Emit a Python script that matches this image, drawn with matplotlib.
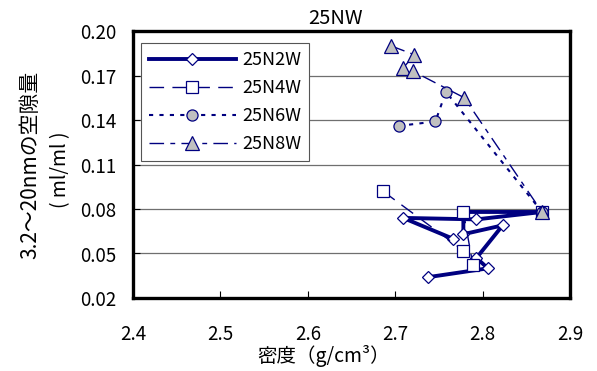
import matplotlib
matplotlib.use("Agg")
import matplotlib.pyplot as plt

plt.rcParams["font.family"] = ["Noto Sans CJK JP", "DejaVu Sans"]

# ── data ──────────────────────────────────────────────────────────────────────
n2w_x = [2.737, 2.806, 2.793, 2.823, 2.778, 2.778, 2.868, 2.793, 2.709, 2.766]
n2w_y = [0.034, 0.040, 0.047, 0.069, 0.063, 0.078, 0.078, 0.073, 0.074, 0.060]

n4w_x = [2.686, 2.778, 2.789, 2.778, 2.868]
n4w_y = [0.092, 0.052, 0.042, 0.078, 0.078]

n6w_x = [2.704, 2.746, 2.758, 2.868]
n6w_y = [0.136, 0.139, 0.159, 0.078]

n8w_x = [2.695, 2.722, 2.709, 2.720, 2.779, 2.868]
n8w_y = [0.190, 0.184, 0.175, 0.173, 0.155, 0.078]

x_ticks = [2.4, 2.5, 2.6, 2.7, 2.8, 2.9]
y_ticks = [0.02, 0.05, 0.08, 0.11, 0.14, 0.17, 0.20]

navy = "#000080"
grey = "#C0C0C0"

# ── plot ──────────────────────────────────────────────────────────────────────
fig = plt.figure(figsize=(5.97, 3.71), dpi=100)
ax = fig.add_axes([133 / 597, 1 - 298 / 371, 437 / 597, 267 / 371])

ax.plot(n2w_x, n2w_y, color=navy, lw=2.8, marker="D", ms=6.2,
        mfc="white", mec=navy, mew=0.9, label="25N2W", zorder=3)
ax.plot(n4w_x, n4w_y, color=navy, lw=1.0, dashes=(10.5, 6), marker="s", ms=8,
        mfc="white", mec=navy, mew=0.9, label="25N4W", zorder=4)
ax.plot(n6w_x, n6w_y, color=navy, lw=1.5, dashes=(2.0, 3.0), marker="o", ms=8,
        mfc=grey, mec=navy, mew=0.9, label="25N6W", zorder=5)
ax.plot(n8w_x, n8w_y, color=navy, lw=1.0, dashes=(10.5, 4.5, 3.5, 4.5),
        marker="^", ms=10, mfc=grey, mec=navy, mew=0.9, label="25N8W", zorder=6)

ax.set_xlim(2.4, 2.9)
ax.set_ylim(0.02, 0.20)
ax.set_xticks(x_ticks)
ax.set_yticks(y_ticks)
ax.set_xticklabels([f"{v:.1f}" for v in x_ticks])
ax.set_yticklabels([f"{v:.2f}" for v in y_ticks])
ax.tick_params(axis="x", direction="in", length=5, width=0.8, pad=19, labelsize=13.5)
ax.tick_params(axis="y", direction="in", length=5, width=0.8, pad=12, labelsize=13.5)

ax.yaxis.grid(True, color="#6f6f6f", lw=0.9)
ax.set_axisbelow(True)
for s in ax.spines.values():
    s.set_linewidth(2.4)
    s.set_color("black")

fig.text(335 / 597, 1 - 18 / 371, "25NW", fontsize=14.5, ha="center", va="center")
fig.text(324 / 597, 1 - 356 / 371, "密度（g/cm³）", fontsize=14,
         ha="center", va="center")
fig.text(30 / 597, 1 - 165 / 371, "3.2～20nmの空隙量", fontsize=15,
         rotation=90, ha="center", va="center")
fig.text(61 / 597, 1 - 170 / 371, "( ml/ml )", fontsize=14,
         rotation=90, ha="center", va="center")

leg = ax.legend(loc="upper left", bbox_to_anchor=(0.018, 0.955),
                fontsize=13, handlelength=4.8, numpoints=1,
                frameon=True, fancybox=False, framealpha=1,
                edgecolor="#555555", borderpad=0.45, labelspacing=0.55,
                handletextpad=0.35, borderaxespad=0)
leg.get_frame().set_linewidth(0.8)
leg.set_zorder(10)

fig.savefig("out.png", dpi=100)
